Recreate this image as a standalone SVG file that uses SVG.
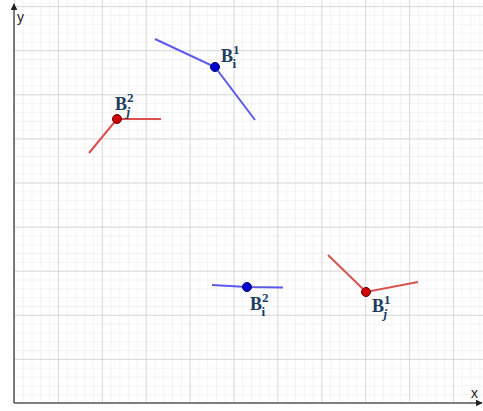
<svg xmlns="http://www.w3.org/2000/svg" width="483" height="411" viewBox="0 0 483 411">
<defs>
<pattern id="minor" x="14" y="403" width="8.78" height="8.82" patternUnits="userSpaceOnUse">
<path d="M0 0V8.82M0 0H8.78" fill="none" stroke="#e8e8e8" stroke-width="1"/>
</pattern>
<pattern id="major" x="14" y="403" width="43.9" height="44.1" patternUnits="userSpaceOnUse">
<path d="M0 0V44.1M0 0H43.9" fill="none" stroke="#cfcfcf" stroke-width="1.4"/>
</pattern>
<marker id="arr" viewBox="0 0 10 10" refX="9" refY="5" markerWidth="7" markerHeight="7" markerUnits="userSpaceOnUse" orient="auto">
<path d="M0 0L10 5L0 10z" fill="#222"/>
</marker>
</defs>
<style>
.blue{stroke:#5a5aeb;stroke-width:2;fill:none}
.red{stroke:#d9504f;stroke-width:2;fill:none}
.bpt{fill:#0000d0;stroke:#000a6a;stroke-width:1}
.rpt{fill:#d00000;stroke:#600000;stroke-width:1}
.lbl{font-family:"Liberation Serif","DejaVu Serif",serif;font-weight:bold;fill:#203a60;font-size:18px}
.sup{font-size:13px}
.ax{font-family:"Liberation Sans","DejaVu Sans",sans-serif;font-size:14px;fill:#222}
</style>
<rect width="483" height="411" fill="#fff"/>
<rect x="14" y="0" width="469" height="403" fill="url(#minor)"/>
<rect x="14" y="0" width="469" height="403" fill="url(#major)"/>
<g id="axes">
<line x1="14" y1="403" x2="14" y2="4" stroke="#555" stroke-width="1.5" marker-end="url(#arr)"/>
<line x1="14" y1="403" x2="482" y2="403" stroke="#555" stroke-width="1.5" marker-end="url(#arr)"/>
<text class="ax" x="17" y="22">y</text>
<text class="ax" x="471" y="398">x</text>
</g>
<g id="connectors">
<polyline class="blue" points="155,39 215,67 255,120"/>
<polyline class="red" points="89,153 117,119 161,119"/>
<polyline class="blue" points="212,285 247,287 283,287.5"/>
<polyline class="red" points="328,255 366,292 418,282"/>
</g>
<g id="Bi1">
<circle class="bpt" cx="215" cy="67" r="4.5"/>
<text class="lbl" x="221" y="62">B<tspan class="sup" dy="-8">1</tspan><tspan class="sup" dx="-7" dy="14">i</tspan></text>
</g>
<g id="Bj2">
<circle class="rpt" cx="117" cy="119" r="4.5"/>
<text class="lbl" x="115" y="110">B<tspan class="sup" dy="-8">2</tspan><tspan class="sup" font-style="italic" dx="-7" dy="14">j</tspan></text>
</g>
<g id="Bi2">
<circle class="bpt" cx="247" cy="287" r="4.5"/>
<text class="lbl" x="250" y="310">B<tspan class="sup" dy="-8">2</tspan><tspan class="sup" dx="-7" dy="14">i</tspan></text>
</g>
<g id="Bj1">
<circle class="rpt" cx="366" cy="292" r="4.5"/>
<text class="lbl" x="372" y="312">B<tspan class="sup" dy="-8">1</tspan><tspan class="sup" font-style="italic" dx="-7" dy="14">j</tspan></text>
</g>
</svg>
